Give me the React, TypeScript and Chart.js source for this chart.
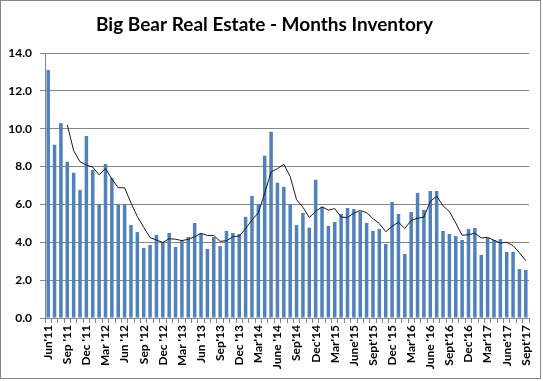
import React, { useEffect, useRef } from "react";
import { Chart, registerables } from "chart.js";

Chart.register(...registerables);

const monthLabels: string[] = [
  "Jun'11", "", "", "Sep '11", "", "", "Dec '11", "", "", "Mar '12", "", "",
  "Jun '12", "", "", "Sep '12", "", "", "Dec '12", "", "", "Mar '13", "", "",
  "Jun '13", "", "", "Sep'13", "", "", "Dec '13", "", "", "Mar'14", "", "",
  "June '14", "", "", "Sep'14", "", "", "Dec'14", "", "", "Mar'15", "", "",
  "June'15", "", "", "Sept'15", "", "", "Dec '15", "", "", "Mar'16", "", "",
  "June '16", "", "", "Sept'16", "", "", "Dec'16", "", "", "Mar'17", "", "",
  "June'17", "", "", "Sept'17",
];

const inventory: number[] = [
  13.1, 9.15, 10.3, 8.25, 7.67, 6.77, 9.62, 7.83, 6.0, 8.14, 7.39, 6.0,
  6.0, 4.91, 4.54, 3.7, 3.86, 4.39, 4.0, 4.49, 3.75, 4.1, 4.28, 5.02,
  4.47, 3.65, 4.28, 3.8, 4.6, 4.49, 4.44, 5.34, 6.45, 6.0, 8.57, 9.84,
  7.14, 6.93, 6.0, 4.91, 5.55, 4.77, 7.3, 5.87, 4.86, 5.07, 5.5, 5.81,
  5.76, 5.63, 5.02, 4.6, 4.7, 3.91, 6.13, 5.5, 3.38, 5.6, 6.61, 5.71,
  6.71, 6.71, 4.6, 4.44, 4.33, 4.12, 4.7, 4.76, 3.33, 4.23, 4.12, 4.17,
  3.49, 3.49, 2.59, 2.54,
];

const trend: (number | null)[] = [
  null, null, null, 10.2, 8.84, 8.25, 8.08, 7.97, 7.56, 7.9, 7.34, 6.88,
  6.88, 6.08, 5.36, 4.79, 4.25, 4.12, 3.99, 4.19, 4.16, 4.09, 4.16, 4.29,
  4.47, 4.36, 4.36, 4.05, 4.08, 4.29, 4.33, 4.72, 5.18, 5.56, 6.59, 7.72,
  7.89, 8.12, 7.48, 6.25, 5.85, 5.31, 5.63, 5.87, 5.7, 5.78, 5.33, 5.31,
  5.54, 5.68, 5.56, 5.25, 4.99, 4.56, 4.84, 5.06, 4.73, 5.15, 5.27, 5.33,
  6.16, 6.44, 5.93, 5.62, 5.02, 4.37, 4.4, 4.48, 4.23, 4.26, 4.11, 3.96,
  4.0, 3.82, 3.44, 3.03,
];

const yTicks: number[] = [0, 2, 4, 6, 8, 10, 12, 14];

const FONT = "Lato, 'Liberation Sans', sans-serif";
const GRID = "#868686";

const borderPlugin = {
  id: "outerBorder",
  afterDraw(chart: any) {
    const ctx = chart.ctx;
    ctx.save();
    ctx.strokeStyle = GRID;
    ctx.lineWidth = 1;
    ctx.strokeRect(0.5, 0.5, 540, 378);
    ctx.restore();
  },
};

export default function App() {
  const canvasRef = useRef<HTMLCanvasElement | null>(null);

  useEffect(() => {
    document.body.style.margin = "0";
    const canvas = canvasRef.current;
    if (!canvas) return;
    const chart = new Chart(canvas, {
      type: "bar",
      data: {
        labels: monthLabels,
        datasets: [
          {
            type: "line",
            label: "Trend",
            data: trend,
            borderColor: "#1a1a1a",
            borderWidth: 1,
            pointRadius: 0,
            tension: 0,
            fill: false,
            order: 0,
          } as any,
          {
            type: "bar",
            label: "Months Inventory",
            data: inventory,
            backgroundColor: "#4F81BD",
            borderWidth: 0,
            barPercentage: 0.55,
            categoryPercentage: 1,
            order: 1,
          },
        ],
      },
      plugins: [borderPlugin],
      options: {
        responsive: false,
        animation: false,
        layout: { padding: { left: 0, right: 14, top: 0, bottom: 0 } },
        plugins: {
          legend: { display: false },
          tooltip: { enabled: false },
          title: {
            display: true,
            text: "Big Bear Real Estate - Months Inventory",
            color: "#000",
            font: { family: FONT, size: 19, weight: "bold" },
            padding: { top: 13, bottom: 17.2 },
          },
        },
        scales: {
          x: {
            offset: true,
            grid: {
              display: true,
              offset: true,
              drawOnChartArea: false,
              color: GRID,
              tickLength: 5,
            },
            border: { display: true, color: GRID },
            ticks: {
              autoSkip: false,
              minRotation: 90,
              maxRotation: 90,
              padding: 2,
              color: "#000",
              font: { family: FONT, size: 12, weight: "bold" },
            },
            afterFit(scale: any) {
              scale.height = 63;
            },
          },
          y: {
            min: 0,
            max: 14,
            afterBuildTicks(scale: any) {
              scale.ticks = yTicks.map((v) => ({ value: v }));
            },
            grid: { color: GRID, tickLength: 5 },
            border: { display: true, color: GRID },
            ticks: {
              padding: 8,
              color: "#000",
              font: { family: FONT, size: 12, weight: "bold" },
              callback: (v: any) => Number(v).toFixed(1),
            },
            afterFit(scale: any) {
              scale.width = 45;
            },
          },
        },
      },
    });
    return () => chart.destroy();
  }, []);

  return (
    <div style={{ position: "absolute", left: 0, top: 0, width: 543, height: 381, background: "#fff" }}>
      <canvas ref={canvasRef} width={543} height={381} style={{ display: "block" }} />
    </div>
  );
}
